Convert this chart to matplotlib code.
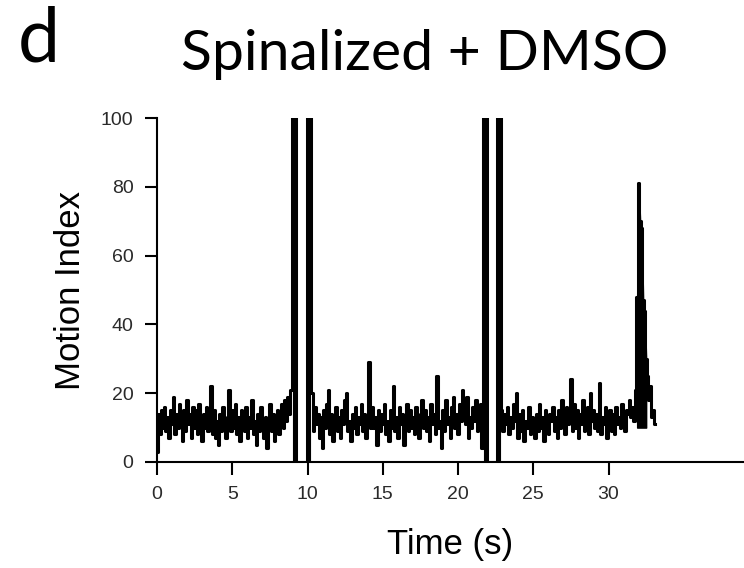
import numpy as np
import matplotlib
matplotlib.use("Agg")
import matplotlib.pyplot as plt

# ---- data (Motion Index traces) ----
# baseline segment A: t = 0.0 .. 8.9 s, dt = 0.1 s
seg_a_t0, seg_dt = 0.0, 0.1
seg_a = [3, 14, 8, 15, 10, 16, 9, 13, 7, 15,
         11, 19, 8, 14, 10, 17, 12, 6, 15, 9,
         18, 11, 14, 7, 16, 10, 15, 8, 17, 12,
         6, 14, 10, 16, 9, 13, 22, 8, 15, 7,
         12, 5, 14, 9, 16, 11, 7, 13, 21, 9,
         15, 10, 17, 8, 13, 6, 15, 11, 9, 16,
         7, 13, 10, 18, 8, 12, 5, 14, 9, 16,
         11, 7, 13, 4, 12, 17, 9, 14, 6, 11,
         15, 8, 13, 17, 10, 18, 12, 19, 14, 21]
# spike 1: t = 9.05 .. 9.2 s, dt = 0.05 s (clipped at 100)
spike1_t0, spike_dt = 9.05, 0.05
spike1 = [120, 120, 120, 120]
# quiet gap 1: t = 9.3 .. 9.9 s
gap1_t0 = 9.3
gap1 = [0, 0, 0, 0, 0, 0, 0]
# spike 2: t = 10.05 .. 10.15 s
spike2_t0 = 10.05
spike2 = [120, 120, 120]
# baseline segment B: t = 10.3 .. 21.6 s, dt = 0.1 s
seg_b_t0 = 10.3
seg_b = [20, 9, 16, 11, 14, 7, 13, 4, 15, 10,
         17, 21, 8, 14, 6, 12, 16, 9, 13, 7,
         15, 11, 18, 20, 9, 12, 6, 14, 10, 16,
         8, 13, 11, 17, 9, 14, 7, 12, 29, 10,
         16, 10, 13, 5, 15, 9, 14, 11, 17, 8,
         12, 6, 15, 10, 22, 9, 13, 7, 16, 11,
         14, 5, 12, 17, 9, 15, 10, 13, 8, 16,
         12, 7, 14, 18, 10, 15, 9, 13, 6, 17,
         11, 14, 8, 25, 10, 12, 4, 15, 9, 18,
         11, 13, 7, 16, 19, 10, 14, 8, 17, 12,
         21, 15, 11, 19, 7, 13, 10, 16, 12, 18,
         9, 14, 17, 4]
# spike 3: t = 21.75 .. 21.85 s
spike3_t0 = 21.75
spike3 = [120, 120, 120]
# quiet gap 2: t = 22.0 .. 22.5 s
gap2_t0 = 22.0
gap2 = [0, 0, 0, 0, 0, 0]
# spike 4: t = 22.65 .. 22.8 s
spike4_t0 = 22.65
spike4 = [120, 120, 120, 120]
# baseline segment C with late burst: t = 22.9 .. 33.1 s, dt = 0.1 s
seg_c_t0 = 22.9
seg_c = [15, 9, 14, 11, 16, 8, 13, 10, 17, 12,
         20, 7, 14, 9, 15, 6, 12, 10, 16, 8,
         13, 11, 7, 14, 9, 17, 10, 13, 6, 15,
         11, 8, 14, 12, 16, 9, 13, 7, 15, 10,
         18, 12, 8, 16, 11, 13, 24, 9, 17, 10,
         15, 7, 14, 11, 18, 9, 13, 16, 8, 20,
         12, 15, 10, 14, 9, 23, 8, 13, 11, 16,
         7, 12, 15, 9, 14, 8, 16, 11, 13, 10,
         17, 12, 9, 15, 14, 18, 13, 16, 12, 21,
         48, 81, 70, 68, 47, 44, 30, 25, 18, 22,
         13, 15, 11]
burst_start, burst_stop = 90, 97   # indices in seg_c of the dense burst

x_ticks = [0, 5, 10, 15, 20, 25, 30]
y_ticks = [0, 20, 40, 60, 80, 100]

# ---- assemble ----
def seg(t0, dt, vals):
    return t0 + dt * np.arange(len(vals)), np.asarray(vals, float)

parts = [seg(seg_a_t0, seg_dt, seg_a),
         seg(spike1_t0, spike_dt, spike1),
         seg(gap1_t0, seg_dt, gap1),
         seg(spike2_t0, spike_dt, spike2),
         seg(seg_b_t0, seg_dt, seg_b),
         seg(spike3_t0, spike_dt, spike3),
         seg(gap2_t0, seg_dt, gap2),
         seg(spike4_t0, spike_dt, spike4),
         seg(seg_c_t0, seg_dt, seg_c)]
t = np.concatenate([p[0] for p in parts])
v = np.concatenate([p[1] for p in parts])

fig = plt.figure(figsize=(7.44, 5.68), dpi=100)
ax = fig.add_axes([157/744, 1-462/568, 1-157/744, (462-118)/568])
ax.plot(t, v, color='black', lw=2.2, drawstyle='steps-mid')
# solid spikes (saturated movement bursts)
for k in (1, 3, 5, 7):
    ax.fill_between(parts[k][0], 0, parts[k][1], step='mid',
                    facecolor='black', edgecolor='black', lw=0.8)
# dense late burst
tc, vc = parts[8]
ax.fill_between(tc[burst_start:burst_stop], 10, vc[burst_start:burst_stop],
                facecolor='black', edgecolor='black', lw=1.0, antialiased=False)
ax.set_xlim(0, 39.0)
ax.set_ylim(0, 100)
for s in ['top', 'right']:
    ax.spines[s].set_visible(False)
for s in ['left', 'bottom']:
    ax.spines[s].set_linewidth(1.5)
ax.set_xticks(x_ticks)
ax.set_yticks(y_ticks)
ax.tick_params(width=1.5, length=9, labelsize=14, colors='black',
               labelcolor='#2a2a2a')
ax.tick_params(axis='x', pad=8)
ax.tick_params(axis='y', pad=8)
for lab in ax.get_xticklabels() + ax.get_yticklabels():
    lab.set_family('Liberation Sans')
ax.set_xlabel('Time (s)', fontsize=25, family='Liberation Sans', labelpad=18)
ax.set_ylabel('Motion Index', fontsize=25, family='Liberation Sans', labelpad=10)

fig.text(425/744, 1-70/568, 'Spinalized + DMSO', ha='center', va='baseline',
         fontsize=41, family='Lato')
fig.text(18/744, 1-62/568, 'd', ha='left', va='baseline',
         fontsize=54, family='Lato')

fig.savefig('out.png', dpi=100)
